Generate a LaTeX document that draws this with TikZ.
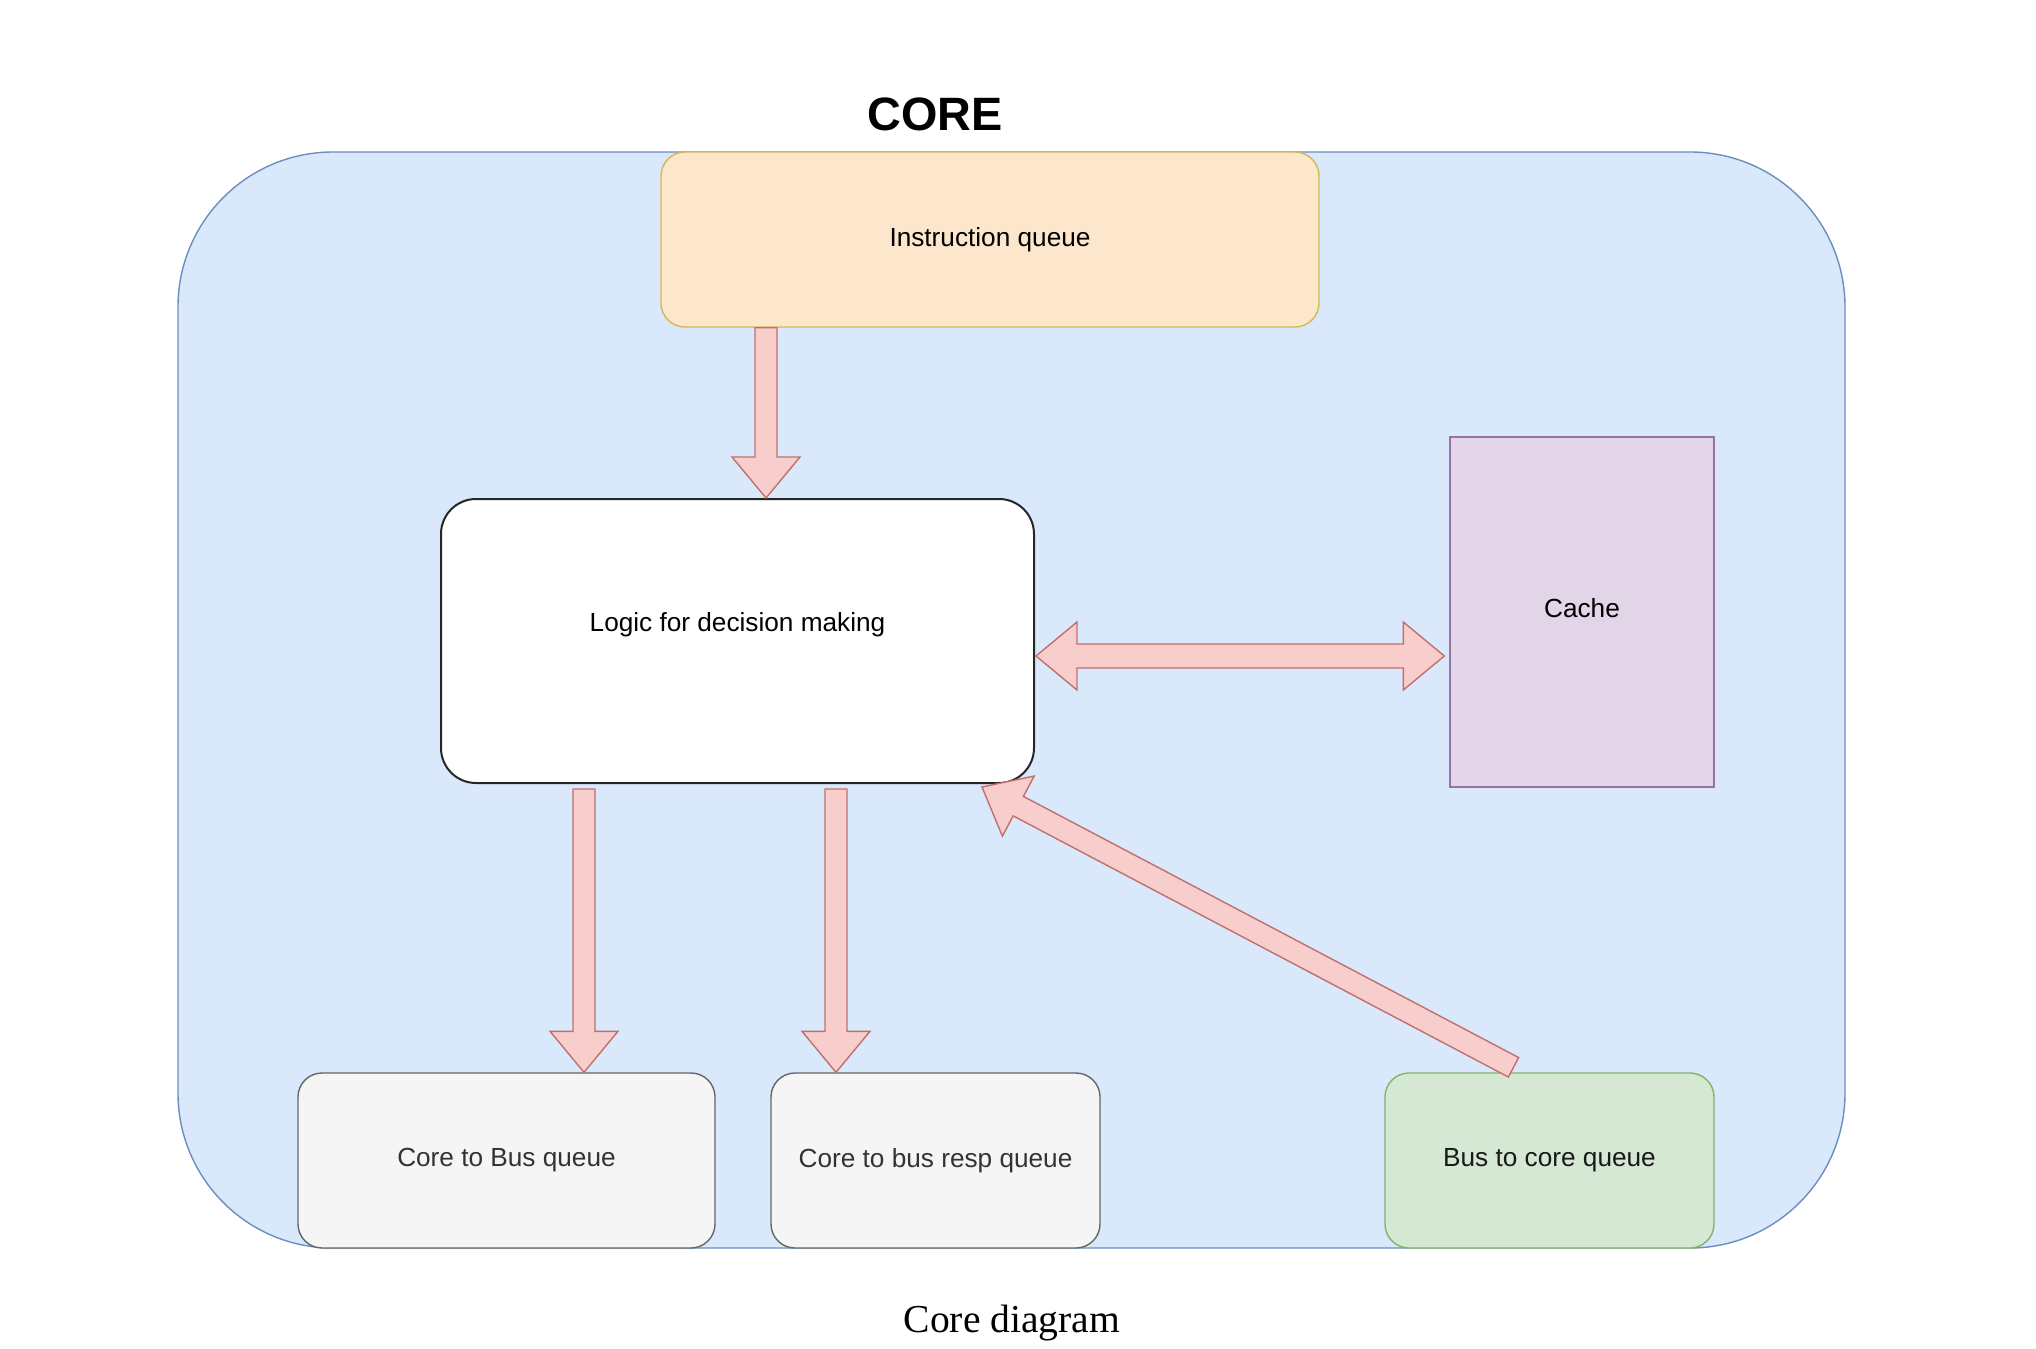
\documentclass[tikz,border=0pt]{standalone}
\usepackage{fontspec}
\setmainfont{Liberation Sans}
\newfontfamily\captionfont{Liberation Serif}
\usetikzlibrary{calc}

\definecolor{coreFill}{HTML}{DAE8FC}
\definecolor{coreLine}{HTML}{6C8EBF}
\definecolor{iqFill}{HTML}{FCE6CC}
\definecolor{iqLine}{HTML}{D6B656}
\definecolor{cacheFill}{HTML}{E1D5E7}
\definecolor{cacheLine}{HTML}{9673A6}
\definecolor{qFill}{HTML}{F5F5F5}
\definecolor{qLine}{HTML}{666666}
\definecolor{qText}{HTML}{333333}
\definecolor{bcFill}{HTML}{D5E8D4}
\definecolor{bcLine}{HTML}{82B366}
\definecolor{arrFill}{HTML}{F8CECC}
\definecolor{arrLine}{HTML}{C0706C}

% fat arrow from #1 to #2
\newcommand{\blockarrow}[2]{%
  \coordinate (ah) at ($(#2)!20.5pt!(#1)$);
  \draw[barrow] ($(#1)!5.5pt!90:(#2)$) -- ($(ah)!5.5pt!90:(#2)$) -- ($(ah)!17pt!90:(#2)$) -- (#2)
    -- ($(ah)!17pt!-90:(#2)$) -- ($(ah)!5.5pt!-90:(#2)$) -- ($(#1)!5.5pt!-90:(#2)$) -- cycle;
}
% fat arrow with two heads
\newcommand{\dblarrow}[2]{%
  \coordinate (ha) at ($(#1)!20.5pt!(#2)$);
  \coordinate (hb) at ($(#2)!20.5pt!(#1)$);
  \draw[barrow] (#1) -- ($(ha)!17pt!90:(#2)$) -- ($(ha)!6pt!90:(#2)$) -- ($(hb)!6pt!-90:(#1)$)
    -- ($(hb)!17pt!-90:(#1)$) -- (#2) -- ($(hb)!17pt!90:(#1)$) -- ($(hb)!6pt!90:(#1)$)
    -- ($(ha)!6pt!-90:(#2)$) -- ($(ha)!17pt!-90:(#2)$) -- cycle;
}

\begin{document}
\begin{tikzpicture}[x=0.5pt,y=-0.5pt,
  every node/.style={font=\fontsize{13.1}{15}\selectfont},
  box/.style={draw, line width=0.7pt, rounded corners=12pt, inner sep=0pt, minimum height=87.5pt},
  barrow/.style={fill=arrFill, draw=arrLine, line width=0.7pt, line join=miter}]
\useasboundingbox (0,0) rectangle (2036,1349);

\node[draw=coreLine, fill=coreFill, line width=0.7pt, rounded corners=77.5pt,
  minimum width=833.5pt, minimum height=548pt] (core) at (1011.5,700) {};
\node (title) at (935,114) {\fontsize{23.4}{28}\selectfont\bfseries CORE};

\node[box, draw=iqLine, fill=iqFill, minimum width=329pt] (iq) at (990,239.5) {Instruction queue};
\node[box, draw=black!85, fill=white, line width=1pt, rounded corners=17.5pt,
  minimum width=296.5pt, minimum height=142pt, text depth=19pt] (logic) at (737.5,641) {Logic for decision making};
\node[box, draw=cacheLine, fill=cacheFill, rounded corners=0pt,
  minimum width=132pt, minimum height=175pt, text depth=4pt] (cache) at (1582,612) {Cache};
\node[box, draw=qLine, fill=qFill, text=qText, minimum width=208.5pt] (c2b) at (506.5,1160.5) {Core to Bus queue};
\node[box, draw=qLine, fill=qFill, text=qText, minimum width=164.5pt] (c2br) at (935.5,1160.5) {Core to bus resp queue};
\node[box, draw=bcLine, fill=bcFill, text=black!90, minimum width=164.5pt] (b2c) at (1549.5,1160.5) {Bus to core queue};

\node (caption) at (1012,1323) {\captionfont\fontsize{19.8}{24}\selectfont Core diagram};

% arrows
\coordinate (iq-out) at ($(iq.south)+(-224,0)$);
\coordinate (logic-in) at (iq-out |- logic.north);
\blockarrow{iq-out}{logic-in}

\coordinate (c2b-src) at ($(logic.south)+(-153.5,5)$);
\coordinate (c2b-in) at (c2b-src |- c2b.north);
\blockarrow{c2b-src}{c2b-in}

\coordinate (c2br-src) at ($(logic.south)+(98.5,5)$);
\coordinate (c2br-in) at (c2br-src |- c2br.north);
\blockarrow{c2br-src}{c2br-in}

\coordinate (cache-l) at ($(logic.east)+(1,15)$);
\coordinate (cache-r) at ($(cache-l -| cache.west)+(-5,0)$);
\dblarrow{cache-l}{cache-r}

\coordinate (b2c-out) at ($(b2c.north)+(-36,-5)$);
\coordinate (logic-back) at ($(logic.south east)+(-53,3)$);
\blockarrow{b2c-out}{logic-back}
\end{tikzpicture}
\end{document}
